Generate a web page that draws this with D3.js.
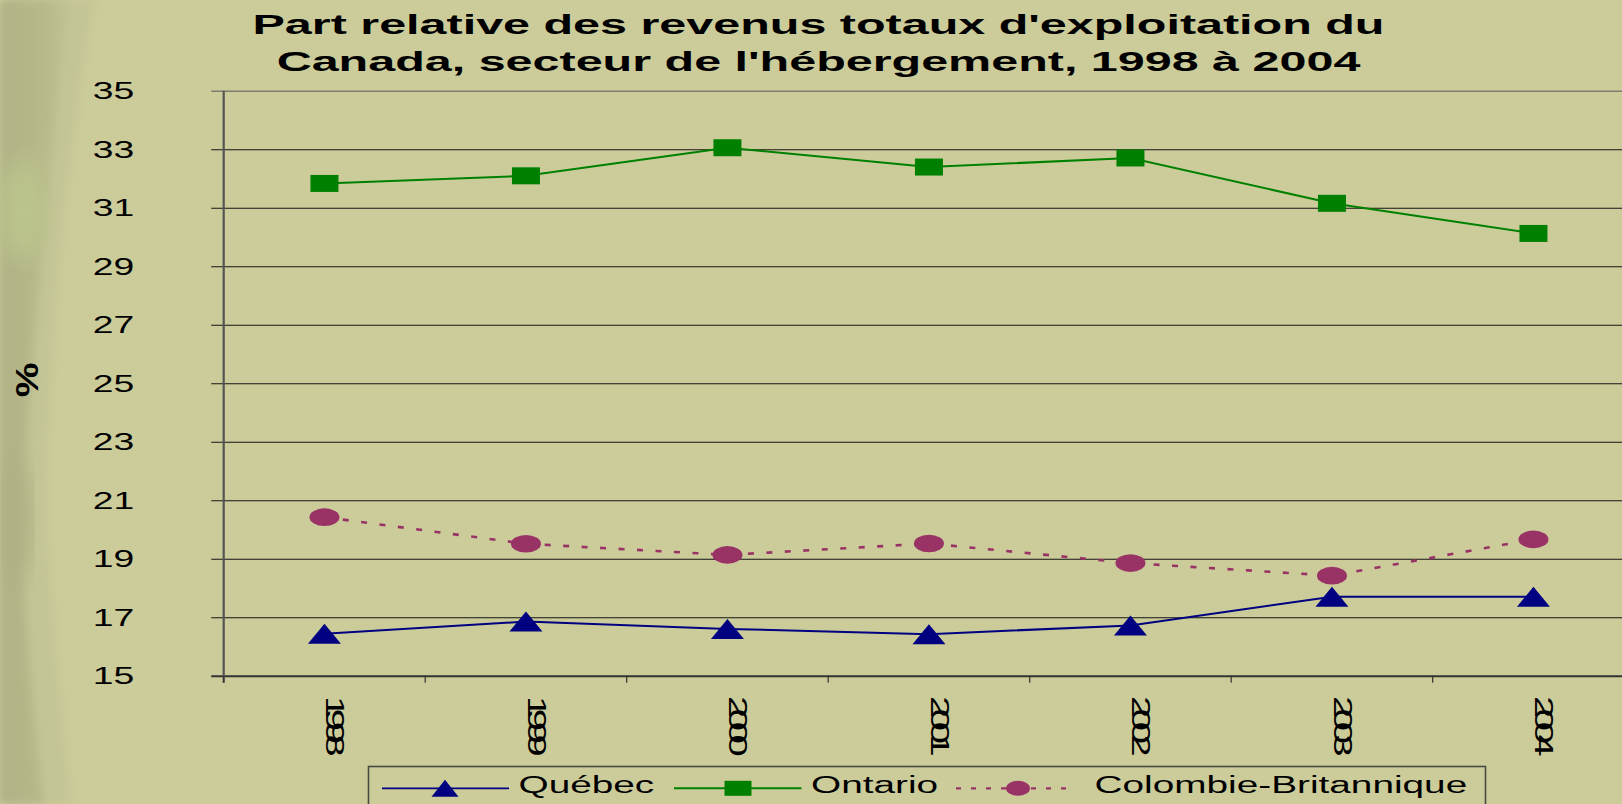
<!DOCTYPE html>
<html><head><meta charset="utf-8">
<script src="https://cdn.jsdelivr.net/npm/d3@7/dist/d3.min.js"></script>
<style>
html,body{margin:0;padding:0;background:#CCCC9A;overflow:hidden}
text{font-family:"Liberation Sans",Arial,sans-serif;fill:#000}
</style>
</head><body>
<svg id="c" width="1622" height="804"></svg>
<script>
// ---- data ----
const years = ["1998","1999","2000","2001","2002","2003","2004"];
const quebec = [16.43,16.85,16.6,16.42,16.72,17.7,17.7];
const ontario = [31.83,32.09,33.05,32.39,32.7,31.15,30.12];
const colombieBritannique = [20.42,19.51,19.13,19.52,18.85,18.42,19.66];
const yTicks = [15,17,19,21,23,25,27,29,31,33,35];
const seriesNames = ["Québec","Ontario","Colombie-Britannique"];
const titleLines = ["Part relative des revenus totaux d'exploitation du","Canada, secteur de l'hébergement, 1998 à 2004"];
const yAxisTitle = "%";

// ---- layout ----
const W = 1622, H = 804;
const pLeft = 223.7, pRight = 1634.2, pTop = 90.7, pBottom = 675.7;
const svg = d3.select("#c");
const colors = {q:"#000080", o:"#008000", c:"#993366"};

// background left texture
const defs = svg.append("defs");
const g1 = defs.append("linearGradient").attr("id","lg").attr("x1","0").attr("x2","1");
g1.append("stop").attr("offset","0").attr("stop-color","#b0b285");
g1.append("stop").attr("offset","0.7").attr("stop-color","#b9ba8b");
g1.append("stop").attr("offset","1").attr("stop-color","#c2c392");
defs.append("filter").attr("id","bl").append("feGaussianBlur").attr("stdDeviation",4);
defs.append("filter").attr("id","bl2").append("feGaussianBlur").attr("stdDeviation",12);
svg.append("rect").attr("width",W).attr("height",H).attr("fill","#CCCC9A");
svg.append("path").attr("d","M0,0 L95,0 C84,60 74,140 64,220 C56,300 52,380 48,460 C46,560 58,660 72,804 L0,804 Z")
  .attr("fill","#c4c596").attr("filter","url(#bl)");
svg.append("path").attr("d","M0,0 L70,0 C62,60 54,120 46,220 C36,300 28,420 22,520 C24,620 34,720 44,804 L0,804 Z")
  .attr("fill","url(#lg)").attr("filter","url(#bl)");
svg.append("ellipse").attr("cx",24).attr("cy",210).attr("rx",24).attr("ry",50).attr("fill","#bcc48c").attr("filter","url(#bl2)");
svg.append("ellipse").attr("cx",18).attr("cy",520).attr("rx",14).attr("ry",60).attr("fill","#aeb083").attr("filter","url(#bl2)");

// scales
const x = d3.scaleBand().domain(years).range([pLeft,pRight]).padding(0);
const bw = x.bandwidth();
const cx = yr => x(yr) + bw/2;
const y = d3.scaleLinear().domain([15,35]).range([pBottom,pTop]);

// gridlines + left ticks via axis
const yAxis = d3.axisLeft(y).tickValues(yTicks).tickSizeOuter(0).tickSizeInner(0).tickFormat("");
const gy = svg.append("g").attr("transform",`translate(${pLeft},0)`).call(yAxis);
gy.select(".domain").remove();
gy.selectAll(".tick line").attr("x1",-12.5).attr("x2",W)
  .attr("stroke", d => d===35 ? "#7d7d70" : (d===15 ? "#333" : "#151515"))
  .attr("stroke-width", d => d===35 ? 1.6 : (d===15?2:1.1));

// left axis line
svg.append("line").attr("x1",pLeft).attr("x2",pLeft).attr("y1",pTop).attr("y2",pBottom+7)
  .attr("stroke","#555").attr("stroke-width",2.2);
// bottom axis ticks (category boundaries)
const bounds = years.map(d => x(d)).concat([x(years[years.length-1])+bw]);
svg.selectAll(".xt").data(bounds).enter().append("line")
  .attr("x1",d=>d).attr("x2",d=>d).attr("y1",pBottom).attr("y2",pBottom+7)
  .attr("stroke","#333").attr("stroke-width",1.2);

// y tick labels
svg.selectAll(".yl").data(yTicks).enter().append("text")
  .attr("transform", d => `translate(134.3,${y(d)+8.3}) scale(1.6,1)`)
  .attr("text-anchor","end").attr("font-size",23.3).text(d => d);

// y axis title
svg.append("text").attr("transform","translate(38,380) rotate(-90) scale(1.5,1.2)")
  .attr("text-anchor","middle").attr("font-size",26).attr("font-weight","bold")
  .attr("font-family","DejaVu Serif").text(yAxisTitle);

// x tick labels (rotated, overlapping glyphs)
svg.selectAll(".xl").data(years).enter().append("text")
  .attr("transform", d => `translate(${cx(d)+2},696) rotate(90) scale(1.6,1)`)
  .attr("font-size",25).attr("textLength",38).attr("lengthAdjust","spacing")
  .text(d => d);

// title
titleLines.forEach((t,i) => {
  svg.append("text").attr("transform",`translate(818.5,${34.3+i*36.2}) scale(1.707,1)`)
    .attr("text-anchor","middle").attr("font-size",28.4).attr("font-weight","bold").text(t);
});

// lines
const line = d3.line().x((v,i)=>cx(years[i])).y(v=>y(v));
svg.append("path").attr("d",line(colombieBritannique)).attr("fill","none")
  .attr("stroke",colors.c).attr("stroke-width",2.6).attr("stroke-dasharray","6,12.5");
svg.append("path").attr("d",line(quebec)).attr("fill","none")
  .attr("stroke",colors.q).attr("stroke-width",2);
svg.append("path").attr("d",line(ontario)).attr("fill","none")
  .attr("stroke",colors.o).attr("stroke-width",2);

// markers
const tri = (px,py,w,h) => `M${px},${py-h/2}L${px+w/2},${py+h/2}L${px-w/2},${py+h/2}Z`;
svg.selectAll(".mc").data(colombieBritannique).enter().append("ellipse")
  .attr("cx",(v,i)=>cx(years[i])).attr("cy",v=>y(v)).attr("rx",15).attr("ry",8.8).attr("fill",colors.c);
svg.selectAll(".mq").data(quebec).enter().append("path")
  .attr("d",(v,i)=>tri(cx(years[i]),y(v),33,20)).attr("fill",colors.q);
svg.selectAll(".mo").data(ontario).enter().append("rect")
  .attr("x",(v,i)=>cx(years[i])-14).attr("y",v=>y(v)-8.5).attr("width",28).attr("height",17).attr("fill",colors.o);

// legend
const lg = svg.append("g");
lg.append("rect").attr("x",368.5).attr("y",766.5).attr("width",1117).attr("height",60)
  .attr("fill","none").attr("stroke","#4a4a44").attr("stroke-width",1.6);
const ly = 788.3;
const legItems = [
  {name:seriesNames[0], x1:382, x2:509, mx:445, tx:518.5, col:colors.q, type:"tri", dash:null, sw:1.8},
  {name:seriesNames[1], x1:674, x2:801.5, mx:738, tx:811, col:colors.o, type:"sq", dash:null, sw:2},
  {name:seriesNames[2], x1:956, x2:1076, mx:1018, tx:1094.5, col:colors.c, type:"ci", dash:"5,10", sw:2.2}
];
legItems.forEach(it => {
  const l = lg.append("line").attr("x1",it.x1).attr("x2",it.x2).attr("y1",ly).attr("y2",ly)
    .attr("stroke",it.col).attr("stroke-width",it.sw);
  if (it.dash) l.attr("stroke-dasharray",it.dash);
  if (it.type==="tri") lg.append("path").attr("d",tri(it.mx,ly,27,17)).attr("fill",it.col);
  if (it.type==="sq") lg.append("rect").attr("x",it.mx-13.5).attr("y",ly-7.5).attr("width",27).attr("height",15).attr("fill",it.col);
  if (it.type==="ci") lg.append("ellipse").attr("cx",it.mx).attr("cy",ly).attr("rx",12).attr("ry",7.5).attr("fill",it.col);
  lg.append("text").attr("transform",`translate(${it.tx},792.5) scale(1.65,1)`).attr("font-size",23.5).text(it.name);
});
</script>
</body></html>
